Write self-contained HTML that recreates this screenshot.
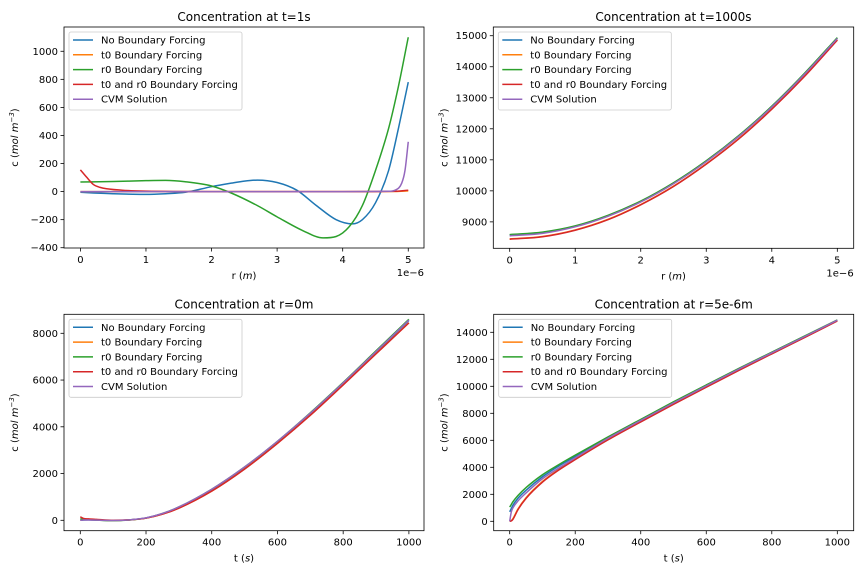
<!DOCTYPE html>
<html><head><meta charset="utf-8">
<style>
body{margin:0;background:#fff;}
svg{display:block;font-family:"DejaVu Sans","Liberation Sans",sans-serif;}
</style></head>
<body>
<svg id="fig" width="864" height="576" viewBox="0 0 864 576" xmlns="http://www.w3.org/2000/svg">
<rect width="864" height="576" fill="#fff"/>
</svg>
<script>
// ---- data ----
const seriesNames = ["No Boundary Forcing","t0 Boundary Forcing","r0 Boundary Forcing","t0 and r0 Boundary Forcing","CVM Solution"];
const seriesColors = ["#1f77b4","#ff7f0e","#2ca02c","#d62728","#9467bd"];

// Panel 1: t=1s (x in 1e-6 m)
const p1x = [0,0.2,0.5,0.8,1,1.3,1.6,2,2.3,2.5,2.7,3,3.3,3.6,3.9,4.15,4.3,4.5,4.7,4.85,5];
const p1Blue = [-5,-10,-15,-19,-20,-15,-5,35,60,75,82,65,10,-100,-200,-230,-200,-80,150,450,780];
const p1gx = [0,0.5,1,1.3,1.6,2,2.3,2.7,3,3.4,3.7,3.9,4.1,4.3,4.5,4.7,4.85,5];
const p1Green = [68,72,78,80,70,40,-10,-100,-180,-280,-330,-320,-250,-100,150,450,750,1100];
const p1rx = [0,0.1,0.2,0.3,0.4,0.7,1,2,3,4,4.8,5];
const p1Red = [155,100,50,30,20,8,3,0,0,0,2,10];
const p1ox = [0,1,2,3,4,4.8,5];
const p1Orange = [0,0,0,0,0,1,5];
const p1px = [0,1,2,3,4,4.7,4.8,4.9,4.95,5];
const p1Purple = [0,0,0,0,0,2,10,60,150,355];

// Panel 2: t=1000s
const p2x = [0,0.5,1,1.5,2,2.5,3,3.5,4,4.5,5];
const p2Blue = [8580,8660,8860,9200,9660,10250,10960,11780,12720,13780,14930];
const p2Orange = [8450,8530,8740,9080,9560,10150,10870,11690,12640,13700,14870];
const p2Green = [8590,8670,8870,9210,9670,10260,10970,11790,12730,13790,14940];
const p2Red = [8440,8520,8730,9070,9550,10140,10860,11680,12630,13690,14860];
const p2Purple = [8550,8630,8840,9180,9640,10230,10940,11760,12700,13760,14910];

// Panel 3: r=0m (x in s)
const p3x = [0,10,25,50,100,150,200,250,300,400,500,600,700,800,900,1000];
const p3Blue = [0,15,20,5,-10,20,100,280,550,1300,2250,3350,4550,5850,7200,8550];
const p3Orange = [0,40,50,20,-10,15,90,260,520,1250,2200,3300,4500,5800,7130,8450];
const p3Green = [60,50,30,10,-15,15,100,290,570,1330,2280,3380,4600,5900,7250,8600];
const p3Red = [150,80,60,40,0,20,90,260,520,1250,2190,3290,4490,5790,7120,8450];
const p3Purple = [0,10,15,5,-10,20,105,290,570,1330,2280,3380,4580,5880,7220,8570];

// Panel 4: r=5e-6m
const p4x = [0,5,10,25,50,100,150,200,300,400,500,600,700,800,900,1000];
const p4Blue = [700,950,1200,1700,2300,3300,4100,4800,6200,7500,8800,10050,11300,12500,13700,14900];
const p4Orange = [0,50,200,900,1750,2950,3850,4600,6050,7380,8680,9950,11200,12420,13630,14850];
const p4Green = [1050,1250,1450,1900,2500,3450,4200,4900,6250,7550,8850,10100,11330,12530,13720,14920];
const p4Red = [0,30,150,850,1700,2900,3800,4570,6030,7360,8660,9930,11180,12400,13610,14840];
const p4Purple = [0,700,1000,1500,2100,3150,3950,4700,6150,7470,8770,10030,11280,12480,13680,14900];

const p1TicksX = [0,1,2,3,4,5], p1TicksY = [-400,-200,0,200,400,600,800,1000];
const p2TicksX = [0,1,2,3,4,5], p2TicksY = [9000,10000,11000,12000,13000,14000,15000];
const p3TicksX = [0,200,400,600,800,1000], p3TicksY = [0,2000,4000,6000,8000];
const p4TicksX = [0,200,400,600,800,1000], p4TicksY = [0,2000,4000,6000,8000,10000,12000,14000];

// ---- drawing ----
const NS = "http://www.w3.org/2000/svg";
const fig = document.getElementById("fig");
function mk(tag, attrs, parent){const e=document.createElementNS(NS,tag);for(const k in attrs)e.setAttribute(k,attrs[k]);(parent||fig).appendChild(e);return e;}

// monotone-x cubic path (Fritsch-Carlson) through screen points
function smoothPath(P){
  const n=P.length; if(n<2) return "";
  const d=[],m=[];
  for(let i=0;i<n-1;i++){d.push((P[i+1][1]-P[i][1])/(P[i+1][0]-P[i][0]));}
  m[0]=d[0]; m[n-1]=d[n-2];
  for(let i=1;i<n-1;i++){ m[i]=(d[i-1]*d[i]<=0)?0:(d[i-1]+d[i])/2; }
  for(let i=0;i<n-1;i++){ if(d[i]===0){m[i]=0;m[i+1]=0;continue;}
    const a=m[i]/d[i],b=m[i+1]/d[i],s=a*a+b*b; if(s>9){const t=3/Math.sqrt(s);m[i]=t*a*d[i];m[i+1]=t*b*d[i];} }
  let s="M"+P[0][0].toFixed(2)+","+P[0][1].toFixed(2);
  for(let i=0;i<n-1;i++){const h=(P[i+1][0]-P[i][0])/3;
    s+=" C"+(P[i][0]+h).toFixed(2)+","+(P[i][1]+m[i]*h).toFixed(2)+" "+(P[i+1][0]-h).toFixed(2)+","+(P[i+1][1]-m[i+1]*h).toFixed(2)+" "+P[i+1][0].toFixed(2)+","+P[i+1][1].toFixed(2);}
  return s;
}

const panels = [
 {id:"panel-t1s", title:"Concentration at t=1s", L:64,R:424,T:27,B:248, xmin:-0.25,xmax:5.24, ymin:-402,ymax:1173, tx:p1TicksX, ty:p1TicksY, xl:"r", xu:"m", off:true,
  series:[[p1x,p1Blue],[p1ox,p1Orange],[p1gx,p1Green],[p1rx,p1Red],[p1px,p1Purple]]},
 {id:"panel-t1000s", title:"Concentration at t=1000s", L:493.3,R:853.7,T:27,B:248.3, xmin:-0.25,xmax:5.25, ymin:8148,ymax:15281, tx:p2TicksX, ty:p2TicksY, xl:"r", xu:"m", off:true,
  series:[[p2x,p2Blue],[p2x,p2Orange],[p2x,p2Green],[p2x,p2Red],[p2x,p2Purple]]},
 {id:"panel-r0m", title:"Concentration at r=0m", L:64,R:424,T:314.3,B:530.7, xmin:-49.6,xmax:1046, ymin:-445,ymax:8813, tx:p3TicksX, ty:p3TicksY, xl:"t", xu:"s", off:false,
  series:[[p3x,p3Blue],[p3x,p3Orange],[p3x,p3Green],[p3x,p3Red],[p3x,p3Purple]]},
 {id:"panel-r5e-6m", title:"Concentration at r=5e-6m", L:493.7,R:853.7,T:314.3,B:530.7, xmin:-48.8,xmax:1050, ymin:-696,ymax:15333, tx:p4TicksX, ty:p4TicksY, xl:"t", xu:"s", off:false,
  series:[[p4x,p4Blue],[p4x,p4Orange],[p4x,p4Green],[p4x,p4Red],[p4x,p4Purple]]}
];

function fmt(v){return v<0?"\u2212"+Math.abs(v):String(v);}

panels.forEach(p=>{
  const g = mk("g",{});
  
  
  const sx = v => p.L + (v-p.xmin)/(p.xmax-p.xmin)*(p.R-p.L);
  const sy = v => p.B - (v-p.ymin)/(p.ymax-p.ymin)*(p.B-p.T);
  const cx=(p.L+p.R)/2;
  const t = mk("text",{x:cx,y:p.T-6,"text-anchor":"middle","font-size":"12",fill:"#000"},g);
  t.textContent = p.title;
  
  
  const clipId = p.id+"-clip";
  const cp = mk("clipPath",{id:clipId},g);
  mk("rect",{x:p.L,y:p.T,width:p.R-p.L,height:p.B-p.T},cp);
  p.series.forEach((s,i)=>{
    const P = s[0].map((x,j)=>[sx(x),sy(s[1][j])]);
    const pl = mk("path",{d:smoothPath(P),fill:"none",stroke:seriesColors[i],"stroke-width":"1.5","stroke-linejoin":"round","clip-path":"url(#"+clipId+")"},g);
    
    
  });
  const fr = mk("rect",{x:p.L,y:p.T,width:p.R-p.L,height:p.B-p.T,fill:"none",stroke:"#000","stroke-width":"0.8"},g);
  
  
  p.tx.forEach(v=>{
    const x=sx(v);
    mk("line",{x1:x,x2:x,y1:p.B,y2:p.B+3.5,stroke:"#000","stroke-width":"0.8"},g);
    const tl=mk("text",{x:x,y:p.B+15,"text-anchor":"middle","font-size":"10",fill:"#000"},g);
    tl.textContent=fmt(v);
    
    
  });
  p.ty.forEach(v=>{
    const y=sy(v);
    mk("line",{x1:p.L-3.5,x2:p.L,y1:y,y2:y,stroke:"#000","stroke-width":"0.8"},g);
    const tl=mk("text",{x:p.L-6,y:y+3.5,"text-anchor":"end","font-size":"10",fill:"#000"},g);
    tl.textContent=fmt(v);
    
    
  });
  if(p.off){
    const o=mk("text",{x:p.R,y:p.B+28,"text-anchor":"end","font-size":"10",fill:"#000"},g);
    o.textContent="1e\u22126";
    
    
  }
  const xl=mk("text",{x:cx,y:p.B+31,"text-anchor":"middle","font-size":"10",fill:"#000"},g);
  xl.innerHTML = p.xl+' (<tspan font-style="italic">'+p.xu+'</tspan>)';
  
  
  const yx = p.L-46, yy=(p.T+p.B)/2;
  const yl=mk("text",{x:yx,y:yy,"text-anchor":"middle","font-size":"10",fill:"#000",transform:"rotate(-90 "+yx+" "+yy+")"},g);
  yl.innerHTML = 'c (<tspan font-style="italic">mol m</tspan><tspan font-size="7" dy="-4" font-style="italic">\u22123</tspan><tspan dy="4">)</tspan>';
  
  
  const lg = mk("g",{},g);
  
  
  const lx=p.L+5, ly=p.T+5;
  mk("rect",{x:lx,y:ly,width:173,height:78,rx:2,fill:"#fff","fill-opacity":"0.8",stroke:"#ccc","stroke-width":"0.8"},lg);
  seriesNames.forEach((n,i)=>{
    const yy2 = ly+8+i*14.8;
    const e = mk("g",{},lg);
    
    
    mk("line",{x1:lx+4,x2:lx+24,y1:yy2,y2:yy2,stroke:seriesColors[i],"stroke-width":"1.5"},e);
    const tt=mk("text",{x:lx+32,y:yy2+3.5,"font-size":"10",fill:"#000"},e);
    tt.textContent=n;
  });
});
</script>
</body></html>
